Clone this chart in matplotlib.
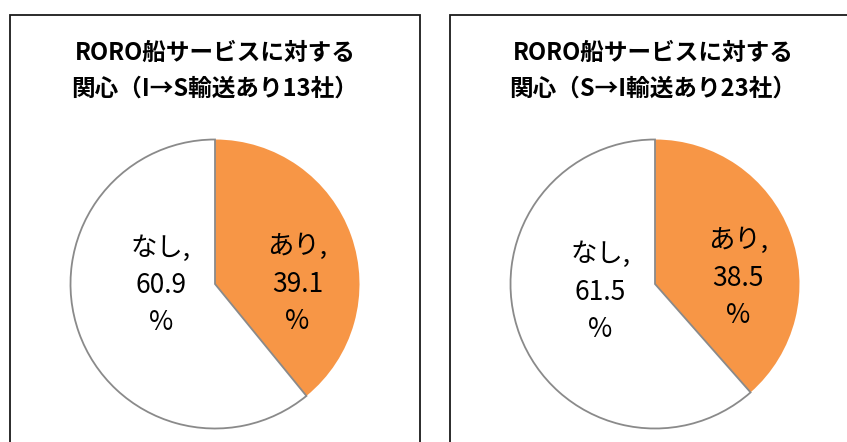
import matplotlib
matplotlib.use("Agg")
import matplotlib.pyplot as plt
from matplotlib.patches import Rectangle

plt.rcParams['font.family'] = ['Noto Sans CJK JP', 'DejaVu Sans']

titles = ["RORO船サービスに対する\n関心（I→S輸送あり13社）",
          "RORO船サービスに対する\n関心（S→I輸送あり23社）"]
categories = ["あり", "なし"]
values_left = [39.1, 60.9]
values_right = [38.5, 61.5]
series = [values_left, values_right]

colors = ["#F79646", "#FFFFFF"]
W, H = 847, 442
fig = plt.figure(figsize=(W / 100, H / 100), dpi=100)

def fx(px):
    return px / W

def fy(py):
    return 1 - py / H

# panel borders
for x0, x1 in [(10, 420), (450, 900)]:
    fig.add_artist(Rectangle((fx(x0), fy(500)), fx(x1) - fx(x0), fy(15) - fy(500),
                             transform=fig.transFigure, fill=False,
                             edgecolor="#1a1a1a", linewidth=1.3))

centers = [(215, 284), (655, 284)]
title_x = [215, 653]
r = 144.5
label_pos = [[(0.57, 0.0), (-0.375, -0.01)],
             [(0.576, 0.04), (-0.38, -0.056)]]

for i, (vals, (cx, cy)) in enumerate(zip(series, centers)):
    fig.text(fx(title_x[i]), fy(71), titles[i], ha="center", va="center",
             fontsize=17, fontweight="bold", linespacing=1.6)
    ax = fig.add_axes([fx(cx - r), fy(cy + r), fx(2 * r), fy(cy - r) - fy(cy + r)])
    wedges, _ = ax.pie(vals, colors=colors, startangle=90, counterclock=False,
                       radius=1, wedgeprops=dict(linewidth=1.3))
    wedges[0].set_edgecolor("none")
    wedges[1].set_edgecolor("#8a8a8a")
    wedges[0].set_zorder(1)
    wedges[1].set_zorder(2)
    wedges[1].set_facecolor("none")
    ax.set_xlim(-1.0, 1.0)
    ax.set_ylim(-1.0, 1.0)
    ax.set_aspect("equal")
    ax.axis("off")
    for j, cat in enumerate(categories):
        lx, ly = label_pos[i][j]
        ax.text(lx, ly, f"{cat},\n{vals[j]}\n%", ha="center", va="center",
                fontsize=19, linespacing=1.5, color="#000000", zorder=5)

fig.savefig("out.png", dpi=100, facecolor="white")
